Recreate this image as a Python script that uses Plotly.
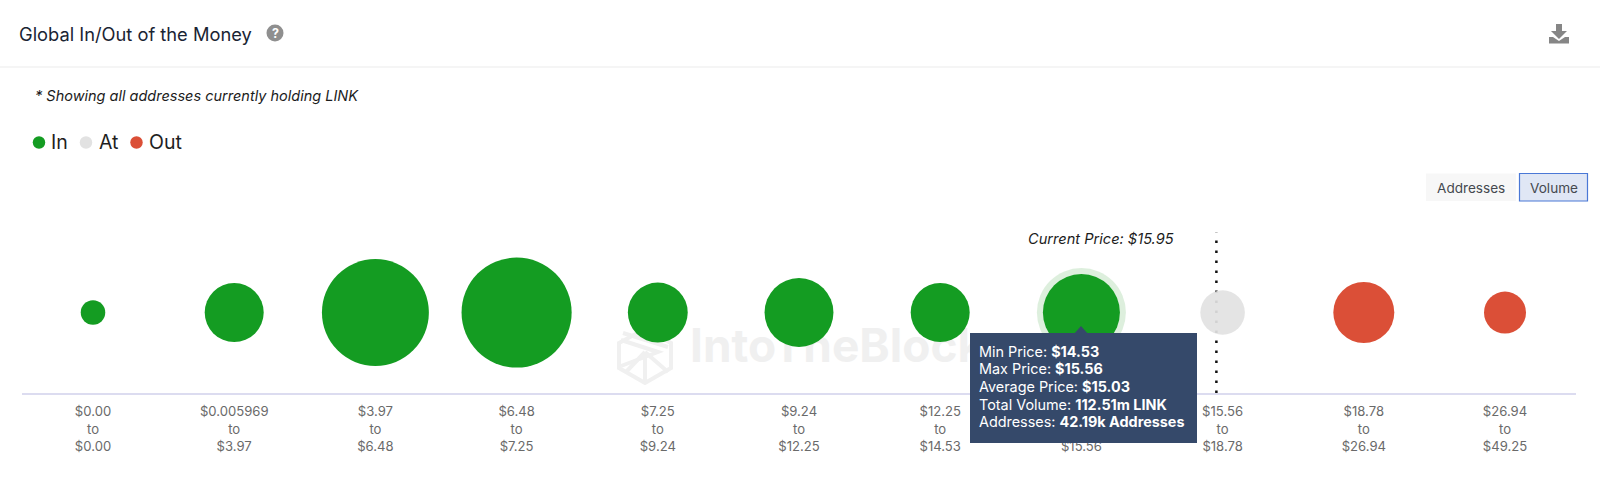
import plotly.graph_objects as go

W, H = 1600, 483

range_from = ["$0.00", "$0.005969", "$3.97", "$6.48", "$7.25", "$9.24", "$12.25", "$14.53", "$15.56", "$18.78", "$26.94"]
range_to = ["$0.00", "$3.97", "$6.48", "$7.25", "$9.24", "$12.25", "$14.53", "$15.56", "$18.78", "$26.94", "$49.25"]
volume_m = [11.4, 66, 217, 230, 68, 90, 66, 112.51, 37.6, 70.6, 33.5]
status = ["In", "In", "In", "In", "In", "In", "In", "In", "At", "Out", "Out"]
current_price_pos = 7.956
colors = {"In": "#149c22", "At": "#e2e2e2", "Out": "#db4f37"}
hovered = 7
tooltip_lines = [("Min Price: ", "$14.53"), ("Max Price: ", "$15.56"), ("Average Price: ", "$15.03"),
                 ("Total Volume: ", "112.51m LINK"), ("Addresses: ", "42.19k Addresses")]

FONT = "Inter, 'Noto Sans', sans-serif"
SIZEREF = 0.03795
ROW_Y = 0.452
TOOLTIP_BG = "#35496a"


def px(x):
    return x / W


def py(y):
    return 1 - y / H


def path(points, close=True):
    s = "M " + " L ".join(f"{px(x):.5f},{py(y):.5f}" for x, y in points)
    return s + (" Z" if close else "")


def label(text, x, y, size, color="#1a2433", xanchor="left", **kw):
    return dict(text=text, xref="paper", yref="paper", x=px(x), y=py(y), xanchor=xanchor, yanchor="middle",
                showarrow=False, font=dict(family=FONT, size=size, color=color), **kw)


def dot(cx, cy, d, color):
    return dict(type="circle", xref="paper", yref="paper", x0=px(cx - d / 2), x1=px(cx + d / 2),
                y0=py(cy + d / 2), y1=py(cy - d / 2), fillcolor=color, line=dict(width=0))


def logo_line(points, close=False):
    return dict(type="path", xref="paper", yref="paper", layer="below", line=dict(color="#f0f0f0", width=4),
                path=path(points, close=close))


fig = go.Figure()

# watermark, below every bubble
fig.add_trace(go.Scatter(x=[4.228], y=[0.236], mode="text", text=["<b>IntoTheBlock</b>"],
                         textposition="middle right", showlegend=False, hoverinfo="skip", cliponaxis=False,
                         textfont=dict(family=FONT, size=46, color="#f0f0f0")))

# halo behind the hovered bubble
fig.add_trace(go.Scatter(x=[hovered], y=[ROW_Y], mode="markers", showlegend=False, hoverinfo="skip",
                         marker=dict(size=[volume_m[hovered] * 1.336], sizemode="area", sizeref=SIZEREF,
                                     color="#cfe8cf", line=dict(width=0))))

# current price line
fig.add_trace(go.Scatter(x=[current_price_pos, current_price_pos], y=[0, 0.9], mode="lines", showlegend=False,
                         hoverinfo="skip", line=dict(color="#111111", width=2.5, dash="2.5px,7.5px")))

for name in ["In", "At", "Out"]:
    idx = [i for i, s in enumerate(status) if s == name]
    fig.add_trace(go.Scatter(
        x=idx, y=[ROW_Y] * len(idx), mode="markers", name=name, hoverinfo="skip", showlegend=False,
        marker=dict(size=[volume_m[i] for i in idx], sizemode="area", sizeref=SIZEREF, color=colors[name],
                    opacity=0.92 if name == "At" else 1, line=dict(width=0)),
    ))

shapes = [
    dict(type="line", xref="paper", yref="paper", x0=0, x1=1, y0=py(67), y1=py(67),
         line=dict(color="#f2f2f2", width=1.5)),
    # help icon
    dot(275, 33, 17, "#8f8f8f"),
    # legend dots
    dot(39, 142.5, 12.5, colors["In"]),
    dot(86, 142.5, 12.5, colors["At"]),
    dot(136.5, 142.5, 12.5, colors["Out"]),
    # download icon
    dict(type="path", xref="paper", yref="paper", fillcolor="#868686", line=dict(width=0),
         path=path([(1556, 24), (1562, 24), (1562, 31), (1567, 31), (1559, 39), (1551, 31), (1556, 31)])),
    dict(type="path", xref="paper", yref="paper", fillcolor="#868686", line=dict(width=0),
         path=path([(1549, 37), (1553, 37), (1559, 41), (1565, 37), (1569, 37), (1569, 43.5), (1549, 43.5)])),
    # toggle buttons
    dict(type="rect", xref="paper", yref="paper", x0=px(1426), x1=px(1516), y0=py(201), y1=py(173.5),
         fillcolor="#f7f7f7", line=dict(width=0)),
    dict(type="rect", xref="paper", yref="paper", x0=px(1519.5), x1=px(1587.5), y0=py(201), y1=py(173.5),
         fillcolor="#e0e7f5", line=dict(color="#4a78d6", width=1.2)),
    # watermark logo
    logo_line([(619, 343), (645, 329), (671, 343), (671, 368), (645, 383), (619, 368)], close=True),
    logo_line([(621, 340), (658, 352), (621, 366)]),
    logo_line([(623, 333), (668, 347)]),
    logo_line([(645, 352), (626, 372)]),
    logo_line([(645, 352), (668, 372)]),
    logo_line([(645, 352), (645, 383)]),
    # tooltip pointer
    dict(type="path", xref="paper", yref="paper", fillcolor=TOOLTIP_BG, line=dict(width=0),
         path=path([(1074, 334), (1081, 326), (1088, 334)])),
]

annotations = [
    label("Global In/Out of the Money", 17, 33.5, 18.3, "#1a2433"),
    label("<b>?</b>", 275, 33.5, 12.5, "#ffffff", xanchor="center"),
    label("<i>* Showing all addresses currently holding LINK</i>", 33, 96, 14.5, "#1c1c1c"),
    label("In", 49, 142.5, 19.5, "#1f1f1f"),
    label("At", 97, 142.5, 19.5, "#1f1f1f"),
    label("Out", 147, 142.5, 19.5, "#1f1f1f"),
    label("<i>Current Price: $15.95</i>", 1100.5, 239, 14.6, "#1c1c1c", xanchor="center"),
    label("Addresses", 1471, 187.5, 13.6, "#45494f", xanchor="center"),
    label("Volume", 1553.5, 187.5, 13.6, "#45494f", xanchor="center"),
    # tooltip box, then one label per line
    dict(text=" ", xref="paper", yref="paper", x=px(970), y=py(333), xanchor="left", yanchor="top",
         width=227, height=110, showarrow=False, bgcolor=TOOLTIP_BG, borderwidth=0, borderpad=0,
         font=dict(family=FONT, size=14)),
]
for i, (a, b) in enumerate(tooltip_lines):
    annotations.append(label(f"{a}<b>{b}</b>", 977, 351.3 + i * 17.67, 14.4, "#ffffff"))

fig.update_layout(
    width=W, height=H, autosize=False,
    margin=dict(l=0, r=0, t=0, b=0, pad=0),
    paper_bgcolor="#ffffff", plot_bgcolor="#ffffff",
    font=dict(family=FONT),
    showlegend=False,
    xaxis=dict(domain=[px(22.4), px(1575.6)], range=[-0.5, 10.5], tickmode="array",
               tickvals=list(range(len(range_from))),
               ticktext=[f"{a}<br>to<br>{b}" for a, b in zip(range_from, range_to)],
               showgrid=False, zeroline=False, showline=True, linecolor="#dcdcf0", linewidth=1.5,
               ticks="", ticklabelstandoff=6, tickangle=0, tickfont=dict(family=FONT, size=13.1, color="#6a6a6a"),
               fixedrange=True),
    yaxis=dict(domain=[py(393), py(215)], range=[0, 1], visible=False, fixedrange=True),
    shapes=shapes, annotations=annotations,
)

fig.write_html("out.html", config={"displayModeBar": False}, post_script="document.body.style.margin='0';")
